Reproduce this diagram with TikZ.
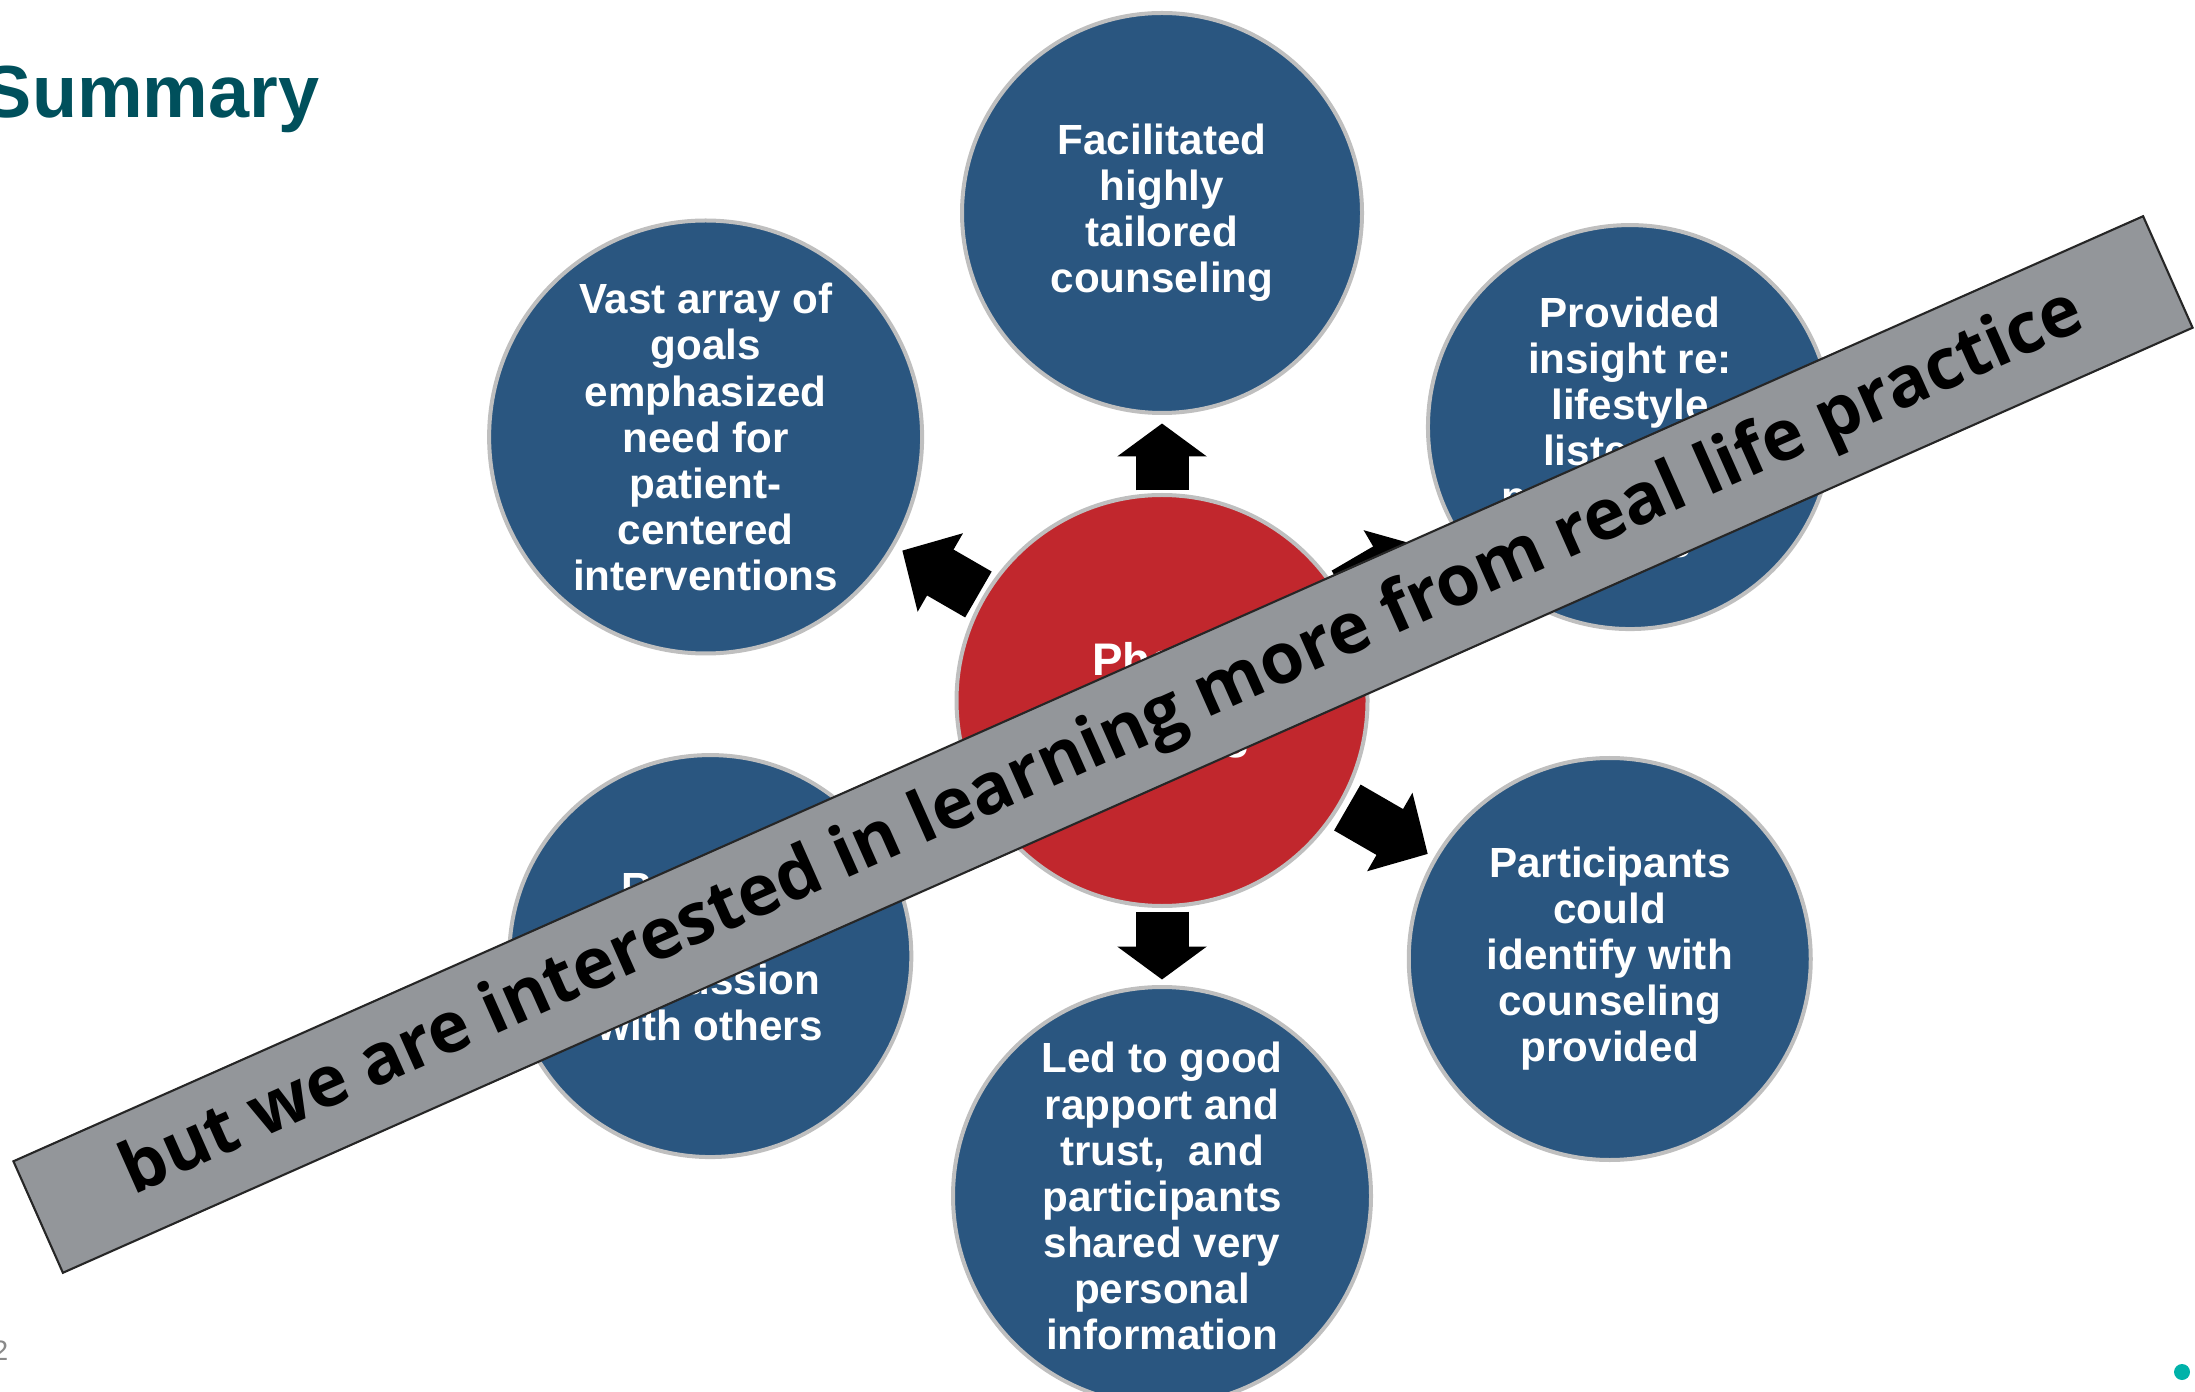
\documentclass[tikz,border=0pt]{standalone}
\usepackage{fontspec}
\setmainfont{Liberation Sans}
\newfontfamily\bannerfont{Open Sans}
\usetikzlibrary{positioning,calc,arrows.meta}

\definecolor{hubred}{RGB}{193,39,45}
\definecolor{topicblue}{RGB}{42,86,128}
\definecolor{rimgray}{RGB}{191,191,191}
\definecolor{bannergray}{RGB}{147,150,154}
\definecolor{titleteal}{RGB}{0,80,92}
\definecolor{dotteal}{RGB}{0,178,169}
\definecolor{pagegray}{RGB}{137,137,137}

\begin{document}
\begin{tikzpicture}[
            topic/.style={
                circle,
                draw=rimgray,
                line width=0.4mm,
                fill=topicblue,
                minimum size=4.02cm,
                inner sep=0pt,
                text=white,
                align=center,
                font=\fontsize{12}{13.1}\selectfont\bfseries
            },
            spoke/.style={line width=5.3mm, -{Triangle[width=8.8mm, length=#1]}},
            spoke/.default=3.3mm,
            banner/.style={
                draw=black!85,
                line width=0.6pt,
                fill=bannergray,
                rotate=23.93,
                minimum width=23.30cm,
                minimum height=1.22cm,
                inner sep=0pt,
                font=\bannerfont\bfseries\fontsize{20.1}{24}\selectfont
            }
        ]
        \useasboundingbox (0,0) rectangle (21.95,13.91);

        \node[anchor=base east, inner sep=0pt, text=titleteal,
              font=\fontsize{21}{25}\selectfont\bfseries] (title) at (3.20,12.73) {Summary};

        \node[topic, fill=hubred, minimum size=4.11cm,
              font=\fontsize{13}{20.7}\selectfont\bfseries] (hub) at (11.62,6.905) {Phone\\Training};

        \node[topic, minimum size=4.0cm, above=0.78cm of hub] (tailored) {Facilitated\\highly\\tailored\\counseling};
        \node[topic, minimum size=4.33cm] (goals) at ($(hub)+(150:5.27)$) {Vast array of\\goals\\emphasized\\need for\\patient-\\centered\\interventions};
        \node[topic, minimum size=4.04cm] (insight) at ($(hub)+(30.3:5.42)$) {Provided\\insight re:\\lifestyle\\listening\\perspectives\\needs};
        \node[topic] (identify) at ($(hub)+(-30:5.17)$) {Participants\\could\\identify with\\counseling\\provided};
        \node[topic] (discuss) at ($(hub)+(209.5:5.19)$) {Resulted\\in open\\discussion\\with others};
        \node[topic, minimum size=4.18cm, below=0.77cm of hub] (rapport) {Led to good\\rapport and\\trust,~ and\\participants\\shared very\\personal\\information};

        \draw[spoke] ($(hub.center)!2.10cm!(tailored.center)$) -- ($(hub.center)!2.77cm!(tailored.center)$);
        \draw[spoke=4.4mm] ($(hub.center)!2.12cm!(goals.center)$) -- ($(hub.center)!3.0cm!(goals.center)$);
        \draw[spoke=4.4mm] ($(hub.center)!2.12cm!(insight.center)$) -- ($(hub.center)!3.04cm!(insight.center)$);
        \draw[spoke=4.4mm] ($(hub.center)!2.14cm!(identify.center)$) -- ($(hub.center)!3.07cm!(identify.center)$);
        \draw[spoke] ($(hub.center)!2.11cm!(rapport.center)$) -- ($(hub.center)!2.79cm!(rapport.center)$);

        \node[banner] (note) at (11.03,6.465) {but we are interested in learning more from real life practice};

        \node[anchor=base east, inner sep=0pt, text=pagegray,
              font=\fontsize{8}{10}\selectfont] (page) at (0.09,0.31) {2};
        \node[circle, fill=dotteal, minimum size=1.6mm, inner sep=0pt] (dot) at (21.82,0.19) {};
        \end{tikzpicture}
\end{document}
